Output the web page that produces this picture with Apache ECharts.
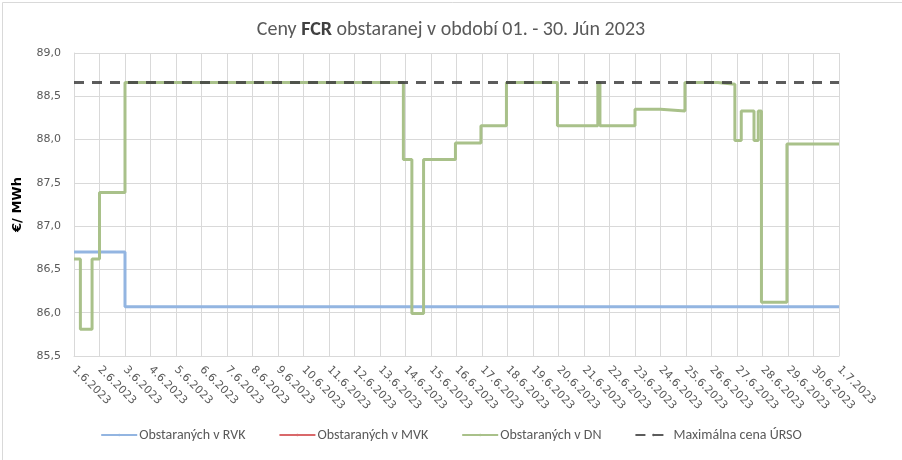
<!DOCTYPE html>
<html>
<head>
<meta charset="utf-8">
<script src="https://cdn.jsdelivr.net/npm/echarts@6/dist/echarts.min.js"></script>
<style>
html,body{margin:0;padding:0;background:#fff;}
#chart{width:902px;height:460px;}
</style>
</head>
<body>
<div id="chart"></div>
<script>
// Tick labels (one per day, x axis in hours from 1.6.2023 00:00)
const dateLabels = ["1.6.2023","2.6.2023","3.6.2023","4.6.2023","5.6.2023","6.6.2023","7.6.2023","8.6.2023","9.6.2023","10.6.2023","11.6.2023","12.6.2023","13.6.2023","14.6.2023","15.6.2023","16.6.2023","17.6.2023","18.6.2023","19.6.2023","20.6.2023","21.6.2023","22.6.2023","23.6.2023","24.6.2023","25.6.2023","26.6.2023","27.6.2023","28.6.2023","29.6.2023","30.6.2023","1.7.2023"];

// Obstaraných v RVK (step breakpoints: hour, value)
const rvkHours  = [0, 48, 720];
const rvkValues = [86.70, 86.07, 86.07];

// Obstaraných v MVK (no data in period)
const mvkHours  = [];
const mvkValues = [];

// Obstaraných v DN (step breakpoints: hour, value)
const dnHours  = [0, 6, 17, 24, 48, 310, 318, 329, 359, 383, 407, 455, 493, 495, 528, 552, 575, 606, 622, 628, 640, 644, 647, 671, 720];
const dnValues = [86.62, 85.81, 86.62, 87.39, 88.66, 87.77, 85.99, 87.77, 87.96, 88.16, 88.66, 88.16, 88.66, 88.16, 88.35, 88.33, 88.66, 88.64, 87.99, 88.33, 87.99, 88.33, 86.12, 87.95, 87.95];

// Maximálna cena ÚRSO
const ursoHours  = [0, 720];
const ursoValues = [88.66, 88.66];

const zip = (xs, ys) => xs.map((x, i) => [x, ys[i]]);

const chart = echarts.init(document.getElementById('chart'), null, {renderer: 'canvas'});
const FONT = "Carlito, Lato, 'Liberation Sans', sans-serif";
const AXFONT = "'DejaVu Sans', Verdana, sans-serif";

chart.setOption({
  animation: false,
  backgroundColor: '#ffffff',
  graphic: [{
    type: 'rect', left: 0, top: 0, shape: {x: 0.5, y: 0.5, width: 901, height: 459},
    style: {fill: 'none', stroke: '#d9d9d9', lineWidth: 1}, silent: true
  }],
  title: {
    text: 'Ceny {b|FCR} obstaranej v období 01. - 30. Jún 2023',
    left: 'center', top: 15,
    textStyle: {
      fontFamily: FONT, fontSize: 20, fontWeight: 'normal', color: '#595959',
      rich: {b: {fontFamily: FONT, fontSize: 20, fontWeight: 'bold', color: '#404040'}}
    }
  },
  grid: {left: 74, right: 63, top: 53, bottom: 104, containLabel: false},
  legend: {
    bottom: 13, left: 'center',
    itemWidth: 36, itemHeight: 3, itemGap: 33,
    textStyle: {fontFamily: FONT, fontSize: 14, color: '#595959', padding: [0,0,0,-3]},
    data: ['Obstaraných v RVK', 'Obstaraných v MVK', 'Obstaraných v DN', 'Maximálna cena ÚRSO']
  },
  xAxis: {
    type: 'value', min: 0, max: 720, interval: 24,
    axisLine: {show: true, lineStyle: {color: '#d9d9d9', width: 1}},
    axisTick: {show: false},
    splitLine: {show: true, lineStyle: {color: '#d9d9d9', width: 1}},
    axisLabel: {
      rotate: -45, margin: 12, fontFamily: AXFONT, fontSize: 11, color: '#595959',
      formatter: v => dateLabels[Math.round(v / 24)] || ''
    }
  },
  yAxis: {
    type: 'value', min: 85.5, max: 89.0, interval: 0.5,
    name: '€/ MWh', nameLocation: 'middle', nameGap: 50, nameRotate: 90,
    nameTextStyle: {fontFamily: AXFONT, fontSize: 13, fontWeight: 'bold', color: '#000000'},
    axisLine: {show: true, lineStyle: {color: '#d9d9d9', width: 1}},
    axisTick: {show: false},
    splitLine: {show: true, lineStyle: {color: '#d9d9d9', width: 1}},
    axisLabel: {
      margin: 13, fontFamily: AXFONT, fontSize: 11, color: '#595959',
      formatter: v => v.toFixed(1).replace('.', ',')
    }
  },
  series: [
    {
      name: 'Obstaraných v RVK', type: 'line', step: 'end', symbol: 'none',
      data: zip(rvkHours, rvkValues), color: '#93B5E1',
      lineStyle: {color: '#93B5E1', width: 3}, z: 2
    },
    {
      name: 'Obstaraných v MVK', type: 'line', step: 'end', symbol: 'none',
      data: zip(mvkHours, mvkValues), color: '#D9686A',
      lineStyle: {color: '#D9686A', width: 3}, z: 3
    },
    {
      name: 'Obstaraných v DN', type: 'line', step: 'end', symbol: 'none',
      data: zip(dnHours, dnValues), color: '#A9C18A',
      lineStyle: {color: '#A9C18A', width: 3}, z: 4
    },
    {
      name: 'Maximálna cena ÚRSO', type: 'line', symbol: 'none',
      data: zip(ursoHours, ursoValues), color: '#595959',
      lineStyle: {color: 'rgba(64,64,64,0.85)', width: 3, type: [10, 8]}, z: 5
    }
  ]
});
</script>
</body>
</html>
